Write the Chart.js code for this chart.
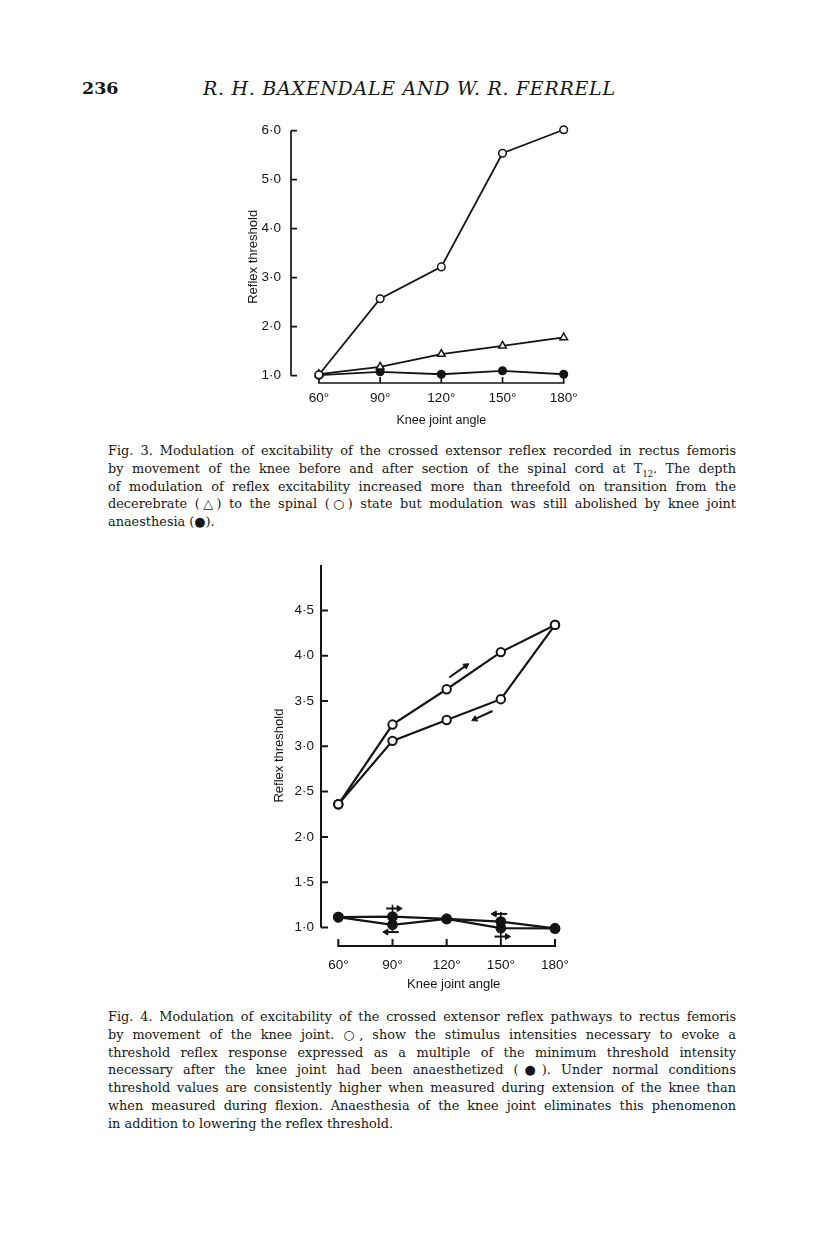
<!DOCTYPE html>
<html>
<head>
<meta charset="utf-8">
<script src="https://cdn.jsdelivr.net/npm/chart.js@4.4.1/dist/chart.umd.min.js"></script>
<style>
html, body { margin: 0; padding: 0; background: #fff; }
body { width: 816px; height: 1243px; position: relative; overflow: hidden; font-family: "DejaVu Serif", "Liberation Serif", serif; color: #161616; }
#pageno { position: absolute; left: 82px; top: 78px; font-size: 17.5px; font-weight: bold; white-space: nowrap; }
#runhead { position: absolute; left: 203px; top: 77px; font-size: 19px; font-style: italic; white-space: nowrap; }
.cap { position: absolute; left: 108px; width: 628px; font-size: 13px; line-height: 17.8px; }
.cap div { text-align: justify; text-align-last: justify; }
.cap div.last { text-align-last: left; }
.box { position: absolute; }
sub { font-size: 0.65em; line-height: 0; }
</style>
</head>
<body>
<div id="pageno">236</div>
<div id="runhead">R. H. BAXENDALE AND W. R. FERRELL</div>

<div class="box" style="left:200px;top:110px;width:400px;height:330px;"><canvas id="fig3" width="400" height="330"></canvas></div>

<div class="cap" style="top:442px;">
<div>Fig. 3. Modulation of excitability of the crossed extensor reflex recorded in rectus femoris</div>
<div>by movement of the knee before and after section of the spinal cord at T<sub>12</sub>. The depth</div>
<div>of modulation of reflex excitability increased more than threefold on transition from the</div>
<div>decerebrate (△) to the spinal (○) state but modulation was still abolished by knee joint</div>
<div class="last">anaesthesia (●).</div>
</div>

<div class="box" style="left:230px;top:550px;width:380px;height:450px;"><canvas id="fig4" width="380" height="450"></canvas></div>

<div class="cap" style="top:1008px;">
<div>Fig. 4. Modulation of excitability of the crossed extensor reflex pathways to rectus femoris</div>
<div>by movement of the knee joint. ○, show the stimulus intensities necessary to evoke a</div>
<div>threshold reflex response expressed as a multiple of the minimum threshold intensity</div>
<div>necessary after the knee joint had been anaesthetized (●). Under normal conditions</div>
<div>threshold values are consistently higher when measured during extension of the knee than</div>
<div>when measured during flexion. Anaesthesia of the knee joint eliminates this phenomenon</div>
<div class="last">in addition to lowering the reflex threshold.</div>
</div>

<script>
// ---------- Data ----------
const KNEE_ANGLES = [60, 90, 120, 150, 180];
const X_TICKS = [60, 90, 120, 150, 180];

// Fig. 3
const FIG3_Y_TICKS = [1, 2, 3, 4, 5, 6];
const SPINAL = [1.02, 2.57, 3.22, 5.54, 6.02];
const DECEREBRATE = [1.03, 1.18, 1.44, 1.61, 1.78];
const ANAESTHESIA3 = [1.01, 1.08, 1.03, 1.10, 1.03];

// Fig. 4
const FIG4_Y_TICKS = [1.0, 1.5, 2.0, 2.5, 3.0, 3.5, 4.0, 4.5];
const OPEN_EXTENSION = [2.36, 3.24, 3.63, 4.04, 4.34];
const OPEN_FLEXION = [2.36, 3.06, 3.29, 3.52, 4.34];
const FILLED_EXTENSION = [1.115, 1.12, 1.095, 1.066, 0.99];
const FILLED_FLEXION = [1.115, 1.03, 1.095, 0.993, 0.99];
// direction arrows (start, end) in data units
const ARROW_EXT = [{x: 121.4, y: 3.76}, {x: 130.7, y: 3.89}];
const ARROW_FLEX = [{x: 145.4, y: 3.39}, {x: 135.6, y: 3.30}];
const BAR_90 = [{x: 90, y: 1.25}, {x: 90, y: 0.94}];
const BAR_150 = [{x: 150, y: 1.17}, {x: 150, y: 0.87}];
const F_ARROW_90_TOP = [{x: 86.5, y: 1.21}, {x: 93.5, y: 1.21}];
const F_ARROW_90_BOT = [{x: 93.5, y: 0.95}, {x: 86.5, y: 0.95}];
const F_ARROW_150_TOP = [{x: 153.5, y: 1.15}, {x: 146.5, y: 1.15}];
const F_ARROW_150_BOT = [{x: 146.5, y: 0.90}, {x: 153.5, y: 0.90}];

const INK = '#141414';
const pts = (ys) => KNEE_ANGLES.map((x, i) => ({x, y: ys[i]}));

// ---------- text fitting (page typography) ----------
(function fitText() {
  const rh = document.getElementById('runhead');
  const txt = rh.textContent;
  const w = rh.getBoundingClientRect().width;
  rh.style.letterSpacing = ((412 - w) / (txt.length - 1)) + 'px';
  document.querySelectorAll('.cap').forEach(cap => {
    let maxW = 0;
    [...cap.children].forEach(l => {
      const s = document.createElement('span');
      s.style.whiteSpace = 'nowrap';
      s.innerHTML = l.innerHTML;
      const html = l.innerHTML;
      l.innerHTML = '';
      l.appendChild(s);
      maxW = Math.max(maxW, s.getBoundingClientRect().width);
      l.innerHTML = html;
    });
    const fs = parseFloat(getComputedStyle(cap).fontSize);
    cap.style.fontSize = (fs * 622 / maxW) + 'px';
  });
})();

// ---------- Axes plugin (paper-style axes) ----------
const paperAxes = {
  id: 'paperAxes',
  beforeDatasetsDraw(chart, args, o) {
    const {ctx, chartArea: a, scales: {x, y}} = chart;
    ctx.save();
    ctx.strokeStyle = INK;
    ctx.lineWidth = o.lw;
    ctx.beginPath();
    const ax = a.left;
    ctx.moveTo(ax, y.getPixelForValue(o.yTop));
    ctx.lineTo(ax, y.getPixelForValue(o.yBottom));
    for (const v of o.yTicks) {
      const py = y.getPixelForValue(v);
      ctx.moveTo(ax, py); ctx.lineTo(ax + o.tick, py);
    }
    const by = a.bottom;
    const x0 = x.getPixelForValue(o.xTicks[0]);
    const x1 = x.getPixelForValue(o.xTicks[o.xTicks.length - 1]);
    ctx.moveTo(x0 - o.lw / 2, by); ctx.lineTo(x1 + o.lw / 2, by);
    for (const v of o.xTicks) {
      const px = x.getPixelForValue(v);
      ctx.moveTo(px, by); ctx.lineTo(px, by - o.tick);
    }
    ctx.stroke();
    ctx.fillStyle = INK;
    ctx.font = o.titleFont;
    ctx.textAlign = 'center';
    ctx.textBaseline = 'middle';
    ctx.fillText(o.xTitle, (x0 + x1) / 2 + o.xTitleDx, by + o.xTitleDy);
    ctx.restore();
  }
};

function line(data, o) {
  return Object.assign({
    data, showLine: true, borderColor: INK, borderWidth: 1.8, tension: 0, clip: false,
    pointStyle: 'circle', pointRadius: 3.8, pointBackgroundColor: '#fff',
    pointBorderColor: INK, pointBorderWidth: 1.5
  }, o);
}
function arrow(data, rot, o) {
  return Object.assign({
    data, showLine: true, borderColor: INK, borderWidth: 2, clip: false,
    pointStyle: 'triangle', pointRadius: [0, 3.4], pointRotation: [0, rot],
    pointBackgroundColor: INK, pointBorderColor: INK, pointBorderWidth: 1
  }, o);
}

function makeChart(id, datasets, c) {
  return new Chart(document.getElementById(id), {
    type: 'scatter',
    data: {datasets},
    options: {
      responsive: false, animation: false, events: [],
      layout: {padding: c.padding},
      plugins: {
        legend: {display: false}, tooltip: {enabled: false},
        paperAxes: c.axes
      },
      scales: {
        x: {
          type: 'linear', min: c.xMin, max: c.xMax,
          grid: {display: false, drawTicks: false}, border: {display: false},
          afterBuildTicks: s => { s.ticks = X_TICKS.map(v => ({value: v})); },
          afterFit: s => { s.height = c.xHeight; },
          ticks: {padding: c.xPad, autoSkip: false, maxRotation: 0, color: INK,
                  font: {family: 'Liberation Sans', size: 13.5}, callback: v => v + '°'}
        },
        y: {
          type: 'linear', min: c.yMin, max: c.yMax,
          grid: {display: false, drawTicks: false}, border: {display: false},
          afterBuildTicks: s => { s.ticks = c.yTicks.map(v => ({value: v})); },
          afterFit: s => { s.width = c.yWidth; },
          ticks: {padding: c.yPad, autoSkip: false, color: INK,
                  font: {family: 'Liberation Sans', size: 13.5},
                  callback: v => v.toFixed(1).replace('.', '·')},
          title: {display: true, text: 'Reflex threshold', color: INK,
                  font: {family: 'Liberation Sans', size: 13}, padding: {top: c.yTitlePad, bottom: 0}}
        }
      }
    },
    plugins: [paperAxes]
  });
}

// Fig. 3
makeChart('fig3', [
  line(pts(SPINAL), {}),
  line(pts(DECEREBRATE), {pointStyle: 'triangle', pointRadius: 4.4}),
  line(pts(ANAESTHESIA3), {pointBackgroundColor: INK, pointRadius: 3.8})
], {
  padding: {top: 20.7, right: 36.3, left: 0, bottom: 0},
  xMin: 46.3, xMax: 180, yMin: 0.851, yMax: 6.0,
  xHeight: 57, yWidth: 91, xPad: 7, yPad: 10, yTitlePad: 46,
  yTicks: FIG3_Y_TICKS,
  axes: {lw: 1.7, tick: 6, yTop: 6.0, yBottom: 1.0, yTicks: FIG3_Y_TICKS, xTicks: X_TICKS,
         xTitle: 'Knee joint angle', xTitleDx: 0, xTitleDy: 38, titleFont: '12.5px "Liberation Sans"'}
});

// Fig. 4
makeChart('fig4', [
  line(pts(OPEN_EXTENSION), {borderWidth: 2.2, pointRadius: 4.2, pointBorderWidth: 2}),
  line(pts(OPEN_FLEXION), {borderWidth: 2.2, pointRadius: 4.2, pointBorderWidth: 2}),
  arrow(ARROW_EXT, 55, {}),
  arrow(ARROW_FLEX, 245, {}),
  line(BAR_90, {borderWidth: 1.6, pointRadius: 0}),
  line(BAR_150, {borderWidth: 1.6, pointRadius: 0}),
  arrow(F_ARROW_90_TOP, 90, {}),
  arrow(F_ARROW_90_BOT, 270, {}),
  arrow(F_ARROW_150_TOP, 270, {}),
  arrow(F_ARROW_150_BOT, 90, {}),
  line(pts(FILLED_EXTENSION), {borderWidth: 2.2, pointBackgroundColor: INK, pointRadius: 4.6}),
  line(pts(FILLED_FLEXION), {borderWidth: 2.2, pointBackgroundColor: INK, pointRadius: 4.6})
], {
  padding: {top: 13, right: 55, left: 0, bottom: 0},
  xMin: 50.4, xMax: 180, yMin: 0.796, yMax: 5.0,
  xHeight: 54, yWidth: 91, xPad: 11, yPad: 7, yTitlePad: 42,
  yTicks: FIG4_Y_TICKS,
  axes: {lw: 2, tick: 7, yTop: 5.0, yBottom: 1.0, yTicks: FIG4_Y_TICKS, xTicks: X_TICKS,
         xTitle: 'Knee joint angle', xTitleDx: 7, xTitleDy: 38, titleFont: '13px "Liberation Sans"'}
});
</script>
</body>
</html>
